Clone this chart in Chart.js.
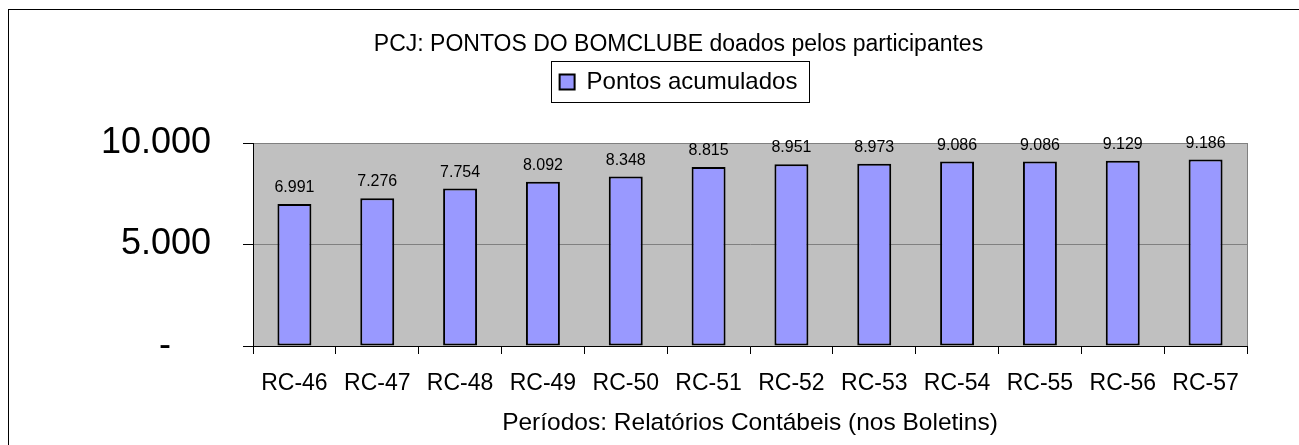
<!DOCTYPE html>
<html>
<head>
<meta charset="utf-8">
<script src="https://cdn.jsdelivr.net/npm/chart.js@4"></script>
<style>
  html, body { margin: 0; padding: 0; background: #fff; }
  #wrap { width: 1299px; height: 445px; }
</style>
</head>
<body>
<div id="wrap"><canvas id="myChart" width="1299" height="445"></canvas></div>
<script>
// data
const categories = ["RC-46", "RC-47", "RC-48", "RC-49", "RC-50", "RC-51", "RC-52", "RC-53", "RC-54", "RC-55", "RC-56", "RC-57"];
const pontos = [6991, 7276, 7754, 8092, 8348, 8815, 8951, 8973, 9086, 9086, 9129, 9186];
const yTicks = [0, 5000, 10000];
const yTickLabels = ["-", "5.000", "10.000"];
const chartTitle = "PCJ: PONTOS DO BOMCLUBE doados pelos participantes";
const seriesName = "Pontos acumulados";
const xTitle = "Períodos: Relatórios Contábeis (nos Boletins)";

const FONT = "'Liberation Sans', Arial, sans-serif";

const fmt = (v) => String(v).replace(/\B(?=(\d{3})+(?!\d))/g, ".");

// gray plot area + frame around the whole thing
const background = {
  id: "background",
  beforeDraw(chart) {
    const { ctx, chartArea: a } = chart;
    ctx.save();
    ctx.fillStyle = "#fff";
    ctx.fillRect(0, 0, chart.width, chart.height);
    ctx.strokeStyle = "#000";
    ctx.lineWidth = 1;
    ctx.strokeRect(8.5, 9.5, chart.width + 10, chart.height + 10);
    ctx.fillStyle = "#c0c0c0";
    ctx.fillRect(a.left, a.top, a.right - a.left, a.bottom - a.top);
    ctx.strokeStyle = "#808080";
    ctx.strokeRect(a.left + 0.5, a.top + 0.5, a.right - a.left, a.bottom - a.top);
    ctx.restore();
  },
};

// value labels above the bars
const barLabels = {
  id: "barLabels",
  afterDatasetsDraw(chart) {
    const { ctx } = chart;
    const meta = chart.getDatasetMeta(0);
    ctx.save();
    ctx.font = "16px " + FONT;
    ctx.fillStyle = "#000";
    ctx.textAlign = "center";
    ctx.textBaseline = "alphabetic";
    meta.data.forEach((bar, i) => {
      ctx.fillText(fmt(pontos[i]), bar.x, bar.y - 12);
    });
    ctx.restore();
  },
};

// box around the legend
const legendBox = {
  id: "legendBox",
  afterDraw(chart) {
    const hb = chart.legend && chart.legend.legendHitBoxes[0];
    if (!hb) return;
    const { ctx } = chart;
    ctx.save();
    ctx.strokeStyle = "#000";
    ctx.lineWidth = 1;
    ctx.strokeRect(Math.round(hb.left) - 8.5, Math.round(hb.top) - 8.5, Math.round(hb.width) + 20, hb.height + 17);
    ctx.restore();
  },
};

new Chart(document.getElementById("myChart"), {
  type: "bar",
  data: {
    labels: categories,
    datasets: [
      {
        label: seriesName,
        data: pontos,
        backgroundColor: "#9999ff",
        borderColor: "#000",
        borderWidth: 2,
        borderSkipped: false,
        categoryPercentage: 1,
        barPercentage: 0.41,
      },
    ],
  },
  options: {
    responsive: false,
    animation: false,
    devicePixelRatio: 1,
    layout: { padding: { left: 92, right: 34, top: 0, bottom: 0 } },
    plugins: {
      title: {
        display: true,
        text: chartTitle,
        color: "#000",
        font: { family: FONT, size: 23, weight: "normal", lineHeight: 1.2 },
        padding: { top: 31, bottom: 1.4 },
      },
      // empty subtitle under the legend, only keeps the gap above the plot
      subtitle: {
        display: true,
        text: "",
        weight: 500,
        font: { size: 1, lineHeight: 1 },
        padding: { top: 0, bottom: 38 },
      },
      legend: {
        display: true,
        position: "top",
        labels: {
          color: "#000",
          font: { family: FONT, size: 24 },
          boxWidth: 15,
          boxHeight: 15,
          padding: 10,
        },
      },
      tooltip: { enabled: false },
    },
    scales: {
      x: {
        grid: { display: true, drawOnChartArea: false, drawTicks: true, tickLength: 8, tickColor: "#000", offset: true },
        border: { color: "#000", width: 1 },
        ticks: { color: "#000", font: { family: FONT, size: 23 }, padding: 16, maxRotation: 0, autoSkip: false },
        title: {
          display: true,
          text: xTitle,
          color: "#000",
          font: { family: FONT, size: 24.5 },
          padding: { top: 0, bottom: 7 },
        },
        afterFit(scale) {
          scale.height = 99;
        },
      },
      y: {
        min: 0,
        max: 10000,
        afterBuildTicks(scale) {
          scale.ticks = yTicks.map((v) => ({ value: v }));
        },
        grid: { color: "#808080", tickColor: "#000", tickLength: 10 },
        border: { color: "#000", width: 1 },
        ticks: {
          color: "#000",
          font: { family: FONT, size: 36 },
          padding: 32,
          // accounting style: the zero dash sits left of the digit column
          callback: (v) => {
            const lbl = yTickLabels[yTicks.indexOf(v)];
            return lbl === "-" ? "-    " : lbl;
          },
        },
        afterFit(scale) {
          scale.width = 253 - 92;
        },
      },
      // empty right axis, just reserves the white strip right of the plot
      yRight: {
        position: "right",
        grid: { display: false },
        border: { display: false },
        ticks: { display: false },
        afterFit(scale) {
          scale.width = 18;
        },
      },
    },
  },
  plugins: [background, barLabels, legendBox],
});
</script>
</body>
</html>
